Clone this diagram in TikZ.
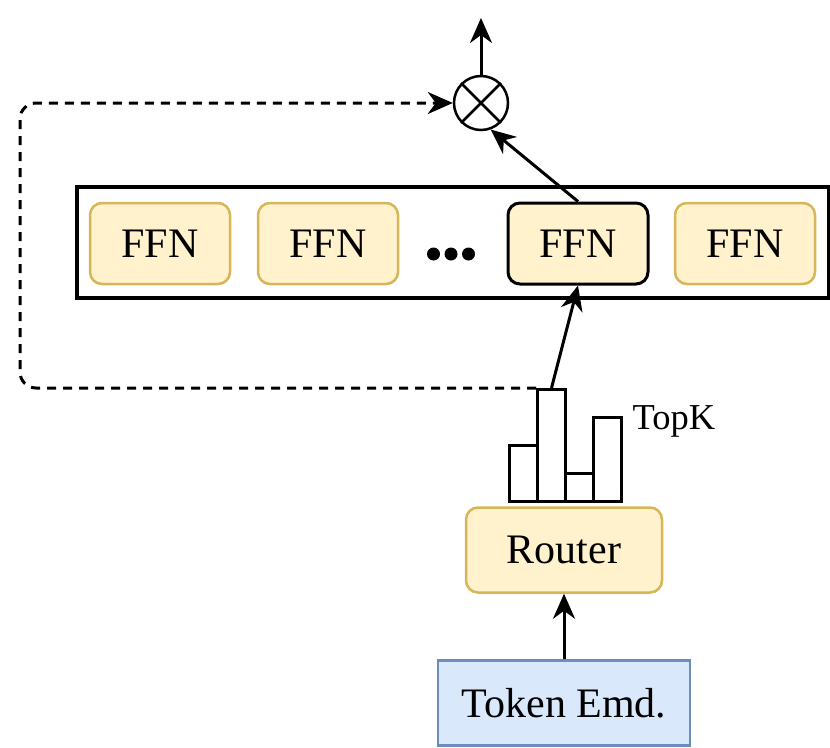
\documentclass[tikz,border=0pt]{standalone}
\usepackage{fontspec}
\setmainfont{Liberation Serif}
\usetikzlibrary{arrows.meta,calc}
\definecolor{yfill}{HTML}{FFF2CC}
\definecolor{ydraw}{HTML}{D6B656}
\definecolor{bfill}{HTML}{DAE8FC}
\definecolor{bdraw}{HTML}{6C8EBF}
\tikzset{
  ybox/.style={draw=ydraw,fill=yfill,line width=2.5pt,rounded corners=12pt,inner sep=0pt,
    font=\fontsize{42}{48}\selectfont},
  ffnbox/.style={ybox,minimum width=140pt,minimum height=81pt},
  bluebox/.style={draw=bdraw,fill=bfill,line width=2.5pt,inner sep=0pt,
    font=\fontsize{42}{48}\selectfont},
  barbox/.style={draw,line width=3pt,minimum width=28pt,inner sep=0pt,anchor=south west},
  arr/.style={line width=3pt,-{Stealth[length=25pt,width=22pt,inset=8pt]}},
}
\begin{document}
\begin{tikzpicture}[x=1pt,y=-1pt]
\useasboundingbox (0,0) rectangle (830,747);
% outer container
\node[draw,line width=3.5pt,minimum width=752pt,minimum height=111pt,inner sep=0pt] (moe) at (453,242.5) {};
\node[ffnbox] (f1) at (160,243.5) {FFN};
\node[ffnbox] (f2) at (328,243.5) {FFN};
\node[ffnbox,draw=black,line width=3pt] (f3) at (578,243.5) {FFN};
\node[ffnbox] (f4) at (745,243.5) {FFN};
\node[inner sep=0pt,minimum width=40pt,minimum height=14pt] (dots) at (451,254) {};
\fill (dots.center) ++(-17.5,0) circle (6.5pt) (dots.center) circle (6.5pt) (dots.center) ++(17.5,0) circle (6.5pt);
% multiply
\node[draw,circle,line width=2.5pt,minimum size=54pt,inner sep=0pt] (mul) at (481,103) {};
\draw[line width=2.5pt] (mul.north east) -- (mul.south west) (mul.north west) -- (mul.south east);
\coordinate (out) at (481,18);
\draw[arr] (mul.north) -- (out);
% bars
\node[barbox,minimum height=56pt] (b1) at (508,503) {};
\node[barbox,minimum height=112pt] (b2) at (536,503) {};
\node[barbox,minimum height=28pt] (b3) at (564,503) {};
\node[barbox,minimum height=84pt] (b4) at (592,503) {};
\node[font=\fontsize{36.5}{42}\selectfont,inner sep=0pt] (topk) at (674,421) {TopK};
% router and token
\node[ybox,minimum width=196pt,minimum height=85pt] (router) at (564,550) {Router};
\node[bluebox,minimum width=252pt,minimum height=85pt] (tok) at (564,703) {Token Emd.};
% connectors
\draw[arr] (tok.north) -- (router.south);
\draw[arr] (b2.north) -- (f3.south);
\draw[arr] (f3.north) -- (mul.-70);
\draw[arr,dashed,dash pattern=on 9pt off 7pt,rounded corners=16pt] (b2.north west) -- ++(-516,0) |- (mul.west);
\end{tikzpicture}
\end{document}
